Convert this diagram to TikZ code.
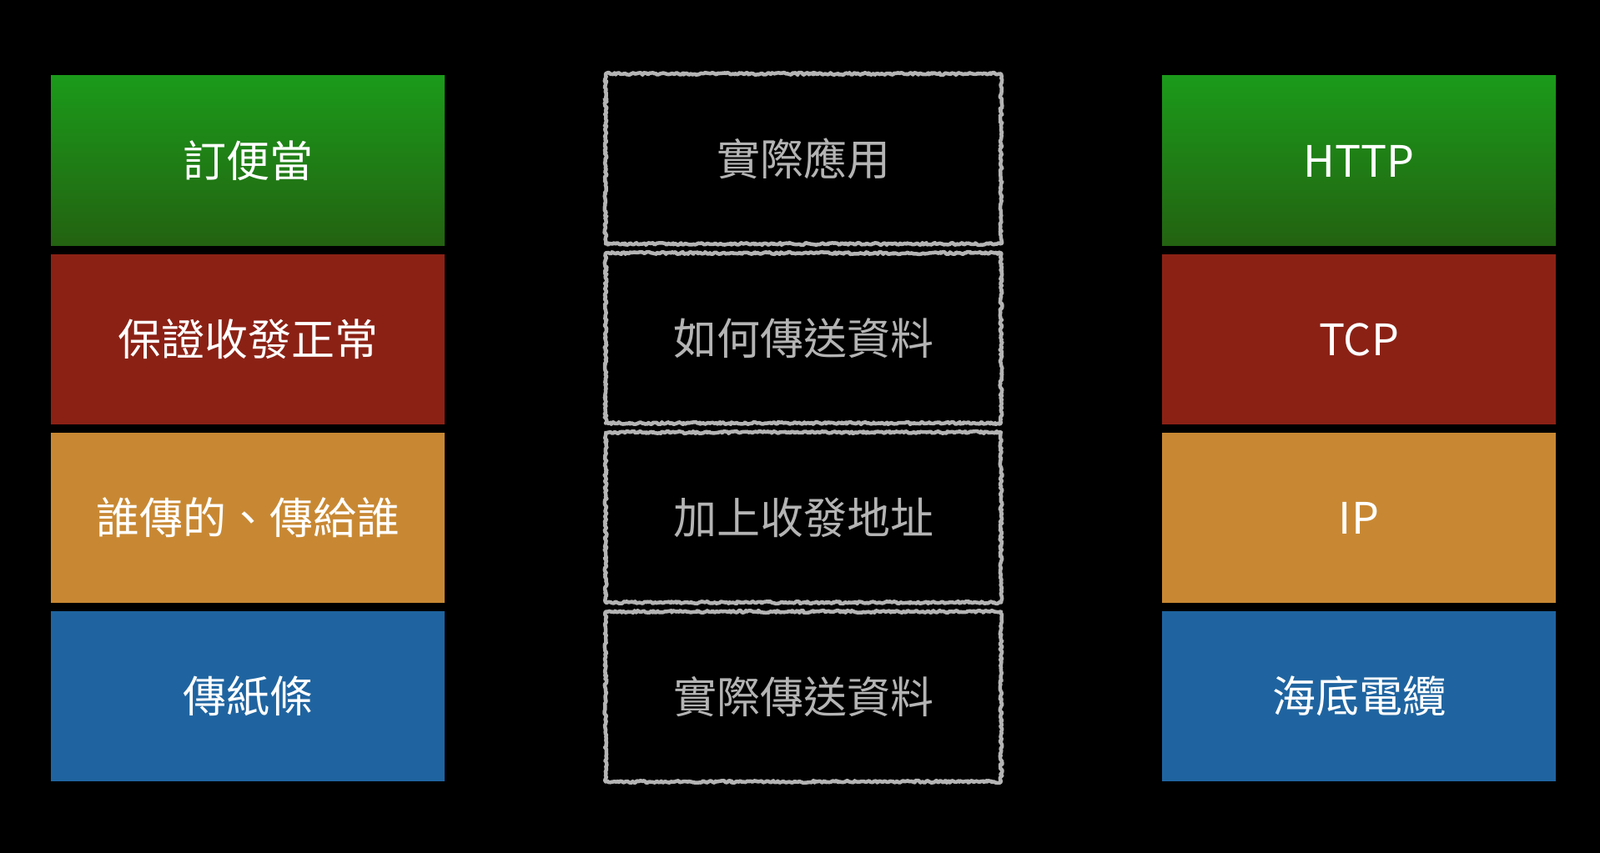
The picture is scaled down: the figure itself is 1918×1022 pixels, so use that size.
\documentclass[tikz,border=0pt]{standalone}
\usepackage{fontspec}
\newfontfamily\cjk{Noto Sans CJK TC}
\usetikzlibrary{decorations.pathmorphing}
\definecolor{appgreen}{HTML}{1B9A1A}
\definecolor{appgreendark}{HTML}{236211}
\definecolor{tcpred}{HTML}{8B2115}
\definecolor{iporange}{HTML}{C88833}
\definecolor{wireblue}{HTML}{1F64A0}
\definecolor{chalk}{HTML}{B4B4B4}
\begin{document}
\begin{tikzpicture}[x=1pt, y=1pt,
  layer box/.style={rectangle,minimum width=472pt,minimum height=204pt,inner sep=0pt,text=white,font=\cjk\fontsize{52}{62}\selectfont},
  chalk box/.style={rectangle,minimum width=474pt,minimum height=204pt,inner sep=0pt,text=chalk,font=\cjk\fontsize{52}{62}\selectfont,
    draw=chalk,line width=4.5pt,line join=round,line cap=round,decorate,decoration={random steps,segment length=2pt,amplitude=1.4pt}}]
\useasboundingbox (0,0) rectangle (1918,1022);
\fill [black] (-3,-3) rectangle (1921,1025);
% left column
\node [layer box, top color=appgreen, bottom color=appgreendark] (app) at (297,829) {訂便當};
\node [layer box, fill=tcpred] (trans) at (297,615) {保證收發正常};
\node [layer box, fill=iporange] (net) at (297,401) {誰傳的、傳給誰};
\node [layer box, fill=wireblue] (link) at (297,187) {傳紙條};
% middle column
\node [chalk box] (appm) at (963,831.5) {實際應用};
\node [chalk box] (transm) at (963,616.5) {如何傳送資料};
\node [chalk box] (netm) at (963,401.5) {加上收發地址};
\node [chalk box] (linkm) at (963,186.5) {實際傳送資料};
% right column
\node [layer box, top color=appgreen, bottom color=appgreendark] (http) at (1629,829) {HTTP};
\node [layer box, fill=tcpred] (tcp) at (1629,615) {TCP};
\node [layer box, fill=iporange] (ip) at (1629,401) {IP};
\node [layer box, fill=wireblue] (cable) at (1629,187) {海底電纜};
\end{tikzpicture}
\end{document}
